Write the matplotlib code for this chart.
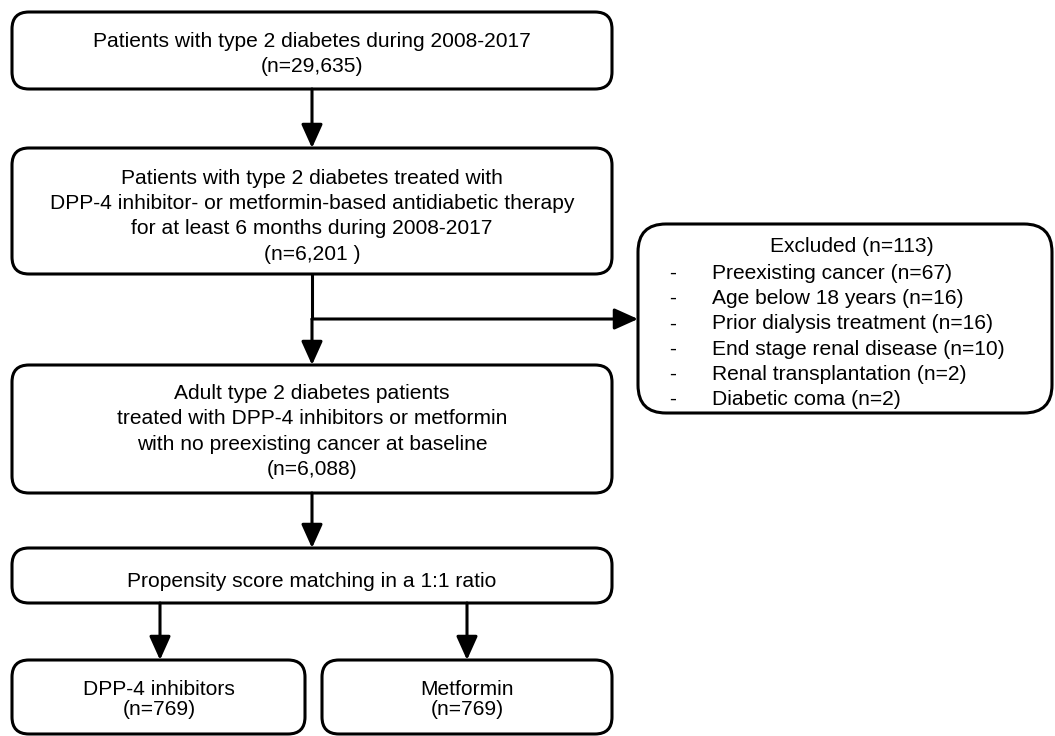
import matplotlib
matplotlib.use("Agg")
import matplotlib.pyplot as plt
from matplotlib.patches import FancyBboxPatch, FancyArrowPatch

plt.rcParams["font.family"] = ["Liberation Sans", "DejaVu Sans"]

# flowchart content
box1_lines = ["Patients with type 2 diabetes during 2008-2017", "(n=29,635)"]
box2_lines = ["Patients with type 2 diabetes treated with",
              "DPP-4 inhibitor- or metformin-based antidiabetic therapy",
              "for at least 6 months during 2008-2017",
              "(n=6,201 )"]
box3_lines = ["Adult type 2 diabetes patients",
              "treated with DPP-4 inhibitors or metformin",
              "with no preexisting cancer at baseline",
              "(n=6,088)"]
match_lines = ["Propensity score matching in a 1:1 ratio"]
dpp4_lines = ["DPP-4 inhibitors", "(n=769)"]
met_lines = ["Metformin", "(n=769)"]
excluded_title = "Excluded (n=113)"
excluded_items = ["Preexisting cancer (n=67)",
                  "Age below 18 years (n=16)",
                  "Prior dialysis treatment (n=16)",
                  "End stage renal disease (n=10)",
                  "Renal transplantation (n=2)",
                  "Diabetic coma (n=2)"]

W, H = 1055, 736
fig = plt.figure(figsize=(W / 100, H / 100), dpi=100)
ax = fig.add_axes([0, 0, 1, 1])
ax.set_xlim(0, W)
ax.set_ylim(H, 0)
ax.axis("off")

FS = 15.1
LW = 2.2


def box(x0, y0, x1, y1, r=17):
    p = FancyBboxPatch((x0, y0), x1 - x0, y1 - y0,
                       boxstyle=f"round,pad=0,rounding_size={r}",
                       fc="white", ec="black", lw=LW)
    ax.add_patch(p)


def lines(xc, baselines, texts):
    for b, t in zip(baselines, texts):
        ax.text(xc, b, t, ha="center", va="baseline", fontsize=FS)


def arrow(x0, y0, x1, y1):
    a = FancyArrowPatch((x0, y0), (x1, y1),
                        arrowstyle="-|>,head_length=1.0,head_width=0.45",
                        mutation_scale=14.4, lw=LW, color="black",
                        shrinkA=0, shrinkB=0)
    ax.add_patch(a)


# boxes
box(12, 12, 612, 89)
lines(312, [47, 72], box1_lines)

arrow(312, 89, 312, 148)

box(12, 148, 612, 274)
lines(312, [184, 209, 234, 260], box2_lines)

ax.plot([312, 312], [274, 319], color="black", lw=LW, solid_capstyle="butt")
arrow(312, 319, 638, 319)
arrow(312, 319, 312, 365)

box(638, 224, 1052, 413, r=28)
ax.text(852, 252, excluded_title, ha="center", va="baseline", fontsize=FS)
for i, t in enumerate(excluded_items):
    yb = 279 + i * 25.2
    ax.text(673, yb, "-", ha="center", va="baseline", fontsize=FS)
    ax.text(712, yb, t, ha="left", va="baseline", fontsize=FS)

box(12, 365, 612, 493)
lines(312, [399, 424, 450, 475], box3_lines)

arrow(312, 493, 312, 548)

box(12, 548, 612, 603)
lines(312, [587], match_lines)

arrow(160, 603, 160, 660)
arrow(467, 603, 467, 660)

box(12, 660, 305, 734)
lines(159, [695, 715], dpp4_lines)
box(322, 660, 612, 734)
lines(467, [695, 715], met_lines)

fig.savefig("out.png", dpi=100)
